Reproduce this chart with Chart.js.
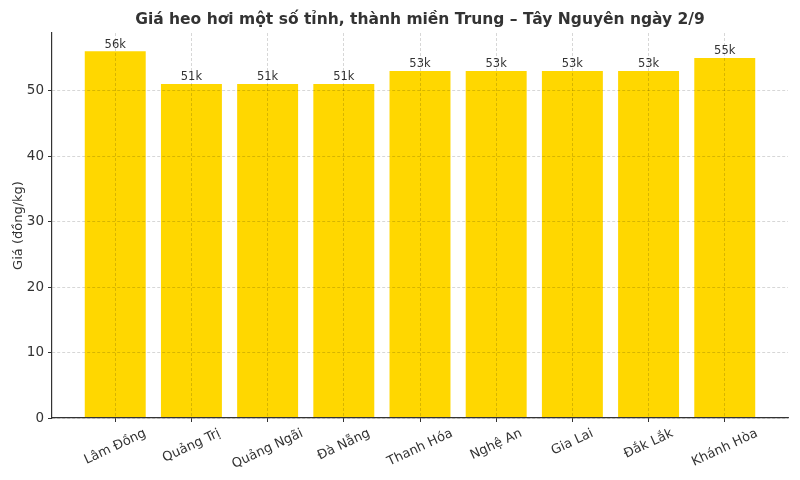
<!DOCTYPE html>
<html>
<head>
<meta charset="utf-8">
<script src="https://cdn.jsdelivr.net/npm/chart.js@4"></script>
<style>
  html, body { margin: 0; padding: 0; background: #fff; }
  #wrap { width: 800px; height: 480px; }
</style>
</head>
<body>
<div id="wrap"><canvas id="priceChart" width="800" height="480"></canvas></div>
<script>
// data
const provinces = ["Lâm Đồng", "Quảng Trị", "Quảng Ngãi", "Đà Nẵng", "Thanh Hóa", "Nghệ An", "Gia Lai", "Đắk Lắk", "Khánh Hòa"];
const prices = [56, 51, 51, 51, 53, 53, 53, 53, 55];
const yTicks = [0, 10, 20, 30, 40, 50];
const valueLabels = ["56k", "51k", "51k", "51k", "53k", "53k", "53k", "53k", "55k"];
const title = "Giá heo hơi một số tỉnh, thành miền Trung – Tây Nguyên ngày 2/9";

const FONT = "'DejaVu Sans', sans-serif";
const TEXT = "#333";

// title centred over the plot area
const titlePlugin = {
  id: "plotTitle",
  afterDraw(chart) {
    const ctx = chart.ctx;
    const a = chart.chartArea;
    ctx.save();
    ctx.font = "bold 15.5px " + FONT;
    ctx.fillStyle = TEXT;
    ctx.textAlign = "center";
    ctx.textBaseline = "middle";
    ctx.fillText(title, (a.left + a.right) / 2, 20);
    ctx.restore();
  }
};

// x labels rotated and centred under each bar
const xLabelPlugin = {
  id: "xLabels",
  afterDraw(chart) {
    const ctx = chart.ctx;
    const xs = chart.scales.x;
    const bottom = chart.chartArea.bottom;
    const ang = 25 * Math.PI / 180;
    ctx.save();
    ctx.font = "13px " + FONT;
    ctx.fillStyle = TEXT;
    ctx.textAlign = "center";
    ctx.textBaseline = "middle";
    provinces.forEach((name, i) => {
      const w = ctx.measureText(name).width;
      const h = 15;
      const H = w * Math.sin(ang) + h * Math.cos(ang);
      const cx = xs.getPixelForValue(i);
      const cy = bottom + 8 + H / 2;
      ctx.save();
      ctx.translate(cx, cy);
      ctx.rotate(-ang);
      ctx.fillText(name, 0, 0);
      ctx.restore();
    });
    ctx.restore();
  }
};

// value labels on top of bars
const valuePlugin = {
  id: "values",
  afterDatasetsDraw(chart) {
    const ctx = chart.ctx;
    const meta = chart.getDatasetMeta(0);
    ctx.save();
    ctx.font = "11.5px " + FONT;
    ctx.fillStyle = TEXT;
    ctx.textAlign = "center";
    ctx.textBaseline = "bottom";
    meta.data.forEach((bar, i) => {
      ctx.fillText(valueLabels[i], bar.x, bar.y - 1);
    });
    ctx.restore();
  }
};

const gridOpts = {
  z: 1,
  offset: false,
  color: "rgba(0,0,0,0.2)",
  lineWidth: 0.8,
  tickColor: "#333",
  tickLength: 4,
  tickWidth: 1
};

const ctx = document.getElementById("priceChart").getContext("2d");
const priceChart = new Chart(ctx, {
  type: "bar",
  data: {
    datasets: [{
      data: prices.map((v, i) => ({ x: i, y: v })),
      backgroundColor: "#FFD700",
      borderWidth: 0,
      barPercentage: 0.8,
      categoryPercentage: 1.0
    }]
  },
  options: {
    responsive: false,
    animation: false,
    layout: { padding: { left: 8, right: 12, top: 33, bottom: 0 } },
    plugins: {
      legend: { display: false },
      tooltip: { enabled: false },
      title: { display: false }
    },
    scales: {
      x: {
        type: "linear",
        offset: false,
        min: -0.83,
        max: 8.83,
        afterBuildTicks: s => { s.ticks = provinces.map((p, i) => ({ value: i })); },
        afterFit: s => { s.height = 62; },
        ticks: { display: false },
        grid: gridOpts,
        border: { display: true, z: 2, color: "#333", width: 1.2, dash: [3, 2] }
      },
      y: {
        min: 0,
        max: 58.8,
        afterBuildTicks: s => { s.ticks = yTicks.map(v => ({ value: v })); },
        afterFit: s => { s.width = 44; },
        ticks: {
          color: TEXT,
          font: { family: FONT, size: 13.5 },
          padding: 4
        },
        grid: gridOpts,
        border: { display: true, z: 2, color: "#333", width: 1.2, dash: [3, 2] },
        title: {
          display: true,
          text: "Giá (đồng/kg)",
          color: TEXT,
          font: { family: FONT, size: 13 },
          padding: { top: 3, bottom: 0 }
        }
      }
    }
  },
  plugins: [titlePlugin, xLabelPlugin, valuePlugin]
});
</script>
</body>
</html>
